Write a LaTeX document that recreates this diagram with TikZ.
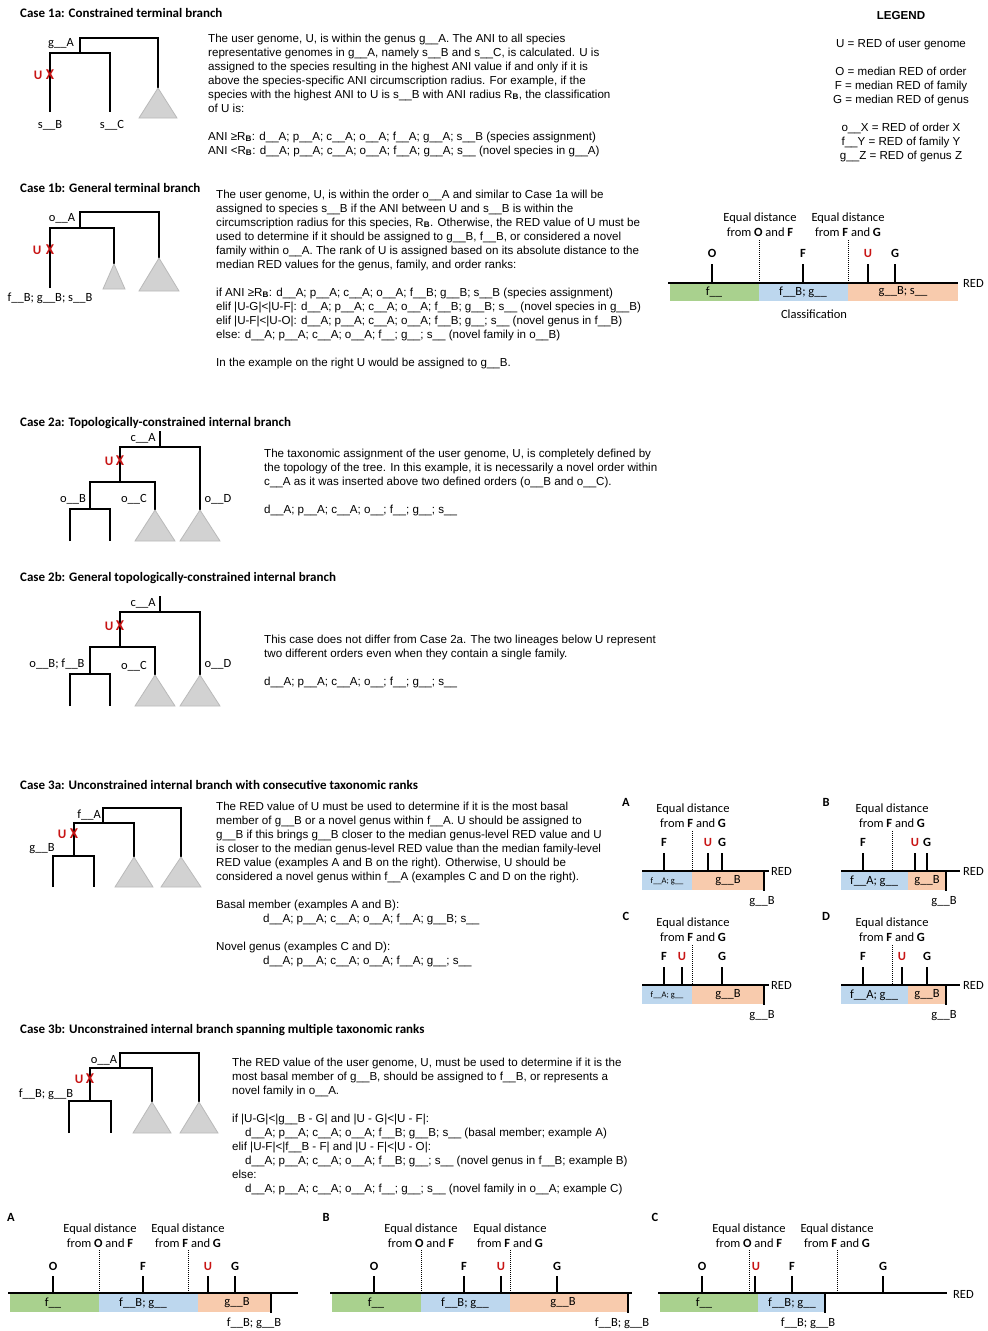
\documentclass[tikz,border=0pt]{standalone}
\usepackage{fontspec}
\setmainfont{Liberation Sans}
\newfontfamily\calib{Carlito}
\def\US{\_\_}
\definecolor{gfill}{RGB}{169,209,142}
\definecolor{bfill}{RGB}{189,215,238}
\definecolor{ofill}{RGB}{248,203,173}
\definecolor{ured}{RGB}{200,20,20}
\definecolor{trifill}{RGB}{210,210,210}
\definecolor{triedge}{RGB}{185,185,185}
\tikzset{
  tl/.style={line width=1.3pt, line join=miter},
  tri/.style={fill=trifill, draw=triedge, line width=0.8pt},
  head/.style={anchor=west, inner sep=0pt, font=\calib\bfseries\fontsize{13}{15}\selectfont},
  body/.style={anchor=north west, inner sep=0pt, align=left, font=\fontsize{11.6}{14}\selectfont},
  tlab/.style={inner sep=0pt, font=\calib\fontsize{12.5}{14}\selectfont},
  ulab/.style={inner sep=0pt, text=ured, font=\calib\bfseries\fontsize{13}{14}\selectfont},
  xmk/.style={inner sep=0pt, text=ured, font=\calib\bfseries\fontsize{15}{15}\selectfont},
  clab/.style={inner sep=0pt, align=center, font=\calib\fontsize{12.5}{15}\selectfont},
  slab/.style={inner sep=0pt, font=\calib\fontsize{8.5}{10}\selectfont},
  blab/.style={inner sep=0pt, font=\calib\bfseries\fontsize{12.5}{14}\selectfont},
  ulabc/.style={inner sep=0pt, text=ured, font=\calib\bfseries\fontsize{12.5}{14}\selectfont},
  axisl/.style={line width=1.3pt},
  tk/.style={line width=1.3pt},
  dl/.style={densely dotted, line width=1pt},
}
% small charts of case 3a
\newcommand{\chAC}[3]{%
\begin{scope}[shift={(0,#3)}]
 \fill[bfill] (642,872) rectangle (692,890);
 \fill[ofill] (692,872) rectangle (764,890);
 \draw[axisl] (642,871) -- (769,871);
 \draw[tk] (764,871) -- (764,891);
 \draw[dl] (692,831) -- (692,871);
 \node[blab] (#1let) at (626,802) {#1};
 \node[clab] (#1eq) at (693,815.5) {Equal distance\\from \textbf{F} and \textbf{G}};
 \draw[tk] (664,853) -- (664,871); \node[blab] (#1F) at (664,842) {F};
 \draw[tk] (#2,853) -- (#2,871); \node[ulabc] (#1U) at (#2,842) {U};
 \draw[tk] (722,853) -- (722,871); \node[blab] (#1G) at (722,842) {G};
 \node[clab,anchor=west] (#1red) at (771,871) {RED};
 \node[slab] (#1b1) at (667,881) {f\US A; g\US};
 \node[clab] (#1b2) at (728,881) {g\US B};
 \node[clab] (#1gb) at (762,902) {g\US B};
\end{scope}}
\newcommand{\chBD}[3]{%
\begin{scope}[shift={(0,#3)}]
 \fill[bfill] (841,872) rectangle (908,890);
 \fill[ofill] (908,872) rectangle (946,890);
 \draw[axisl] (841,871) -- (960,871);
 \draw[tk] (946,871) -- (946,891);
 \draw[dl] (892,831) -- (892,871);
 \node[blab] (#1let) at (826,802) {#1};
 \node[clab] (#1eq) at (892,815.5) {Equal distance\\from \textbf{F} and \textbf{G}};
 \draw[tk] (863,853) -- (863,871); \node[blab] (#1F) at (863,842) {F};
 \draw[tk] (#2,853) -- (#2,871); \node[ulabc] (#1U) at (#2,842) {U};
 \draw[tk] (927,853) -- (927,871); \node[blab] (#1G) at (927,842) {G};
 \node[clab,anchor=west] (#1red) at (963,871) {RED};
 \node[clab] (#1b1) at (874,881) {f\US A; g\US};
 \node[clab] (#1b2) at (927,881) {g\US B};
 \node[clab] (#1gb) at (944,902) {g\US B};
\end{scope}}
\begin{document}
\begin{tikzpicture}[x=1pt,y=-1pt]
\fill[white] (0,0) rectangle (988,1331);
\useasboundingbox (0,0) rectangle (988,1331);

% ================= Case 1a =================
\node[head] (h1a) at (20,13) {Case 1a: Constrained terminal branch};
\draw[tl] (80,53) -- (80,38) -- (158,38) -- (158,88);
\draw[tl] (50,112) -- (50,53) -- (110,53) -- (110,112);
\draw[tri] (158,88) -- (177,118) -- (139,118) -- cycle;
\node[tlab] (ga1) at (61,44) {g\US A};
\node[ulab] (u1) at (38,75) {U};
\node[xmk] (x1) at (50,75) {X};
\node[tlab] (sb1) at (50,125) {s\US B};
\node[tlab] (sc1) at (112,125) {s\US C};
\node[body] (t1a) at (208,33.5) {The user genome, U, is within the genus g\US A. The ANI to all species\\
representative genomes in g\US A, namely s\US B and s\US C, is calculated. U is\\
assigned to the species resulting in the highest ANI value if and only if it is\\
above the species-specific ANI circumscription radius. For example, if the\\
species with the highest ANI to U is s\US B with ANI radius R\textsubscript{\textbf{B}}, the classification\\
of U is:\\[14pt]
ANI ≥R\textsubscript{\textbf{B}}: d\US A; p\US A; c\US A; o\US A; f\US A; g\US A; s\US B (species assignment)\\
ANI <R\textsubscript{\textbf{B}}: d\US A; p\US A; c\US A; o\US A; f\US A; g\US A; s\US{} (novel species in g\US A)};

% ================= Legend =================
\node[body,anchor=north,align=center] (leg) at (901,11.5) {\textbf{LEGEND}\\[14pt]
U = RED of user genome\\[14pt]
O = median RED of order\\
F = median RED of family\\
G = median RED of genus\\[14pt]
o\US X = RED of order X\\
f\US Y = RED of family Y\\
g\US Z = RED of genus Z};

% ================= Case 1b =================
\node[head] (h1b) at (20,188) {Case 1b: General terminal branch};
\draw[tl] (80,228) -- (80,212) -- (159,212) -- (159,258);
\draw[tl] (50,288) -- (50,228) -- (114,228) -- (114,264);
\draw[tri] (159,258) -- (179,291) -- (139,291) -- cycle;
\draw[tri] (114,264) -- (125,289) -- (103,289) -- cycle;
\node[tlab] (oa1b) at (62,218) {o\US A};
\node[ulab] (u1b) at (37,250) {U};
\node[xmk] (x1b) at (50,250) {X};
\node[tlab] (fb1b) at (50,298) {f\US B; g\US B; s\US B};
\node[body] (t1b) at (216,189.5) {The user genome, U, is within the order o\US A and similar to Case 1a will be\\
assigned to species s\US B if the ANI between U and s\US B is within the\\
circumscription radius for this species, R\textsubscript{\textbf{B}}. Otherwise, the RED value of U must be\\
used to determine if it should be assigned to g\US B, f\US B, or considered a novel\\
family within o\US A. The rank of U is assigned based on its absolute distance to the\\
median RED values for the genus, family, and order ranks:\\[14pt]
if ANI ≥R\textsubscript{\textbf{B}}: d\US A; p\US A; c\US A; o\US A; f\US B; g\US B; s\US B (species assignment)\\
elif |U-G|<|U-F|: d\US A;  p\US A; c\US A; o\US A; f\US B; g\US B; s\US{} (novel species in g\US B)\\
elif |U-F|<|U-O|: d\US A; p\US A; c\US A; o\US A; f\US B; g\US; s\US{} (novel genus in f\US B)\\
else: d\US A;  p\US A; c\US A; o\US A; f\US; g\US; s\US{} (novel family in o\US B)\\[14pt]
In the example on the right U would be assigned to g\US B.};

% classification chart (case 1b)
\fill[gfill] (670,284) rectangle (759,301);
\fill[bfill] (759,284) rectangle (848,301);
\fill[ofill] (848,284) rectangle (958,301);
\draw[axisl] (668,283) -- (958,283);
\draw[dl] (759,240) -- (759,283);
\draw[dl] (848,240) -- (848,283);
\node[clab] (ce1) at (760,224.5) {Equal distance\\from \textbf{O} and \textbf{F}};
\node[clab] (ce2) at (848,224.5) {Equal distance\\from \textbf{F} and \textbf{G}};
\draw[tk] (712,264) -- (712,283); \node[blab] (cO) at (712,253) {O};
\draw[tk] (803,264) -- (803,283); \node[blab] (cF) at (803,253) {F};
\draw[tk] (868,264) -- (868,283); \node[ulabc] (cU) at (868,253) {U};
\draw[tk] (895,264) -- (895,283); \node[blab] (cG) at (895,253) {G};
\node[clab,anchor=west] (cred) at (963,283) {RED};
\node[clab] (cb1) at (714,292) {f\US};
\node[clab] (cb2) at (803,292) {f\US B; g\US};
\node[clab] (cb3) at (903,292) {g\US B; s\US};
\node[clab] (ccls) at (814,314) {Classification};

% ================= Case 2a =================
\node[head] (h2a) at (20,423) {Case 2a: Topologically-constrained internal branch};
\draw[tl] (160,431) -- (160,447);
\draw[tl] (120,482) -- (120,447) -- (200,447) -- (200,510);
\draw[tl] (90,509) -- (90,482) -- (155,482) -- (155,510);
\draw[tl] (70,541) -- (70,509) -- (110,509) -- (110,541);
\draw[tri] (155,510) -- (175,541) -- (135,541) -- cycle;
\draw[tri] (200,510) -- (220,541) -- (180,541) -- cycle;
\node[tlab] (ca2a) at (143,438) {c\US A};
\node[ulab] (u2a) at (109,461) {U};
\node[xmk] (x2a) at (120,461) {X};
\node[tlab] (ob2a) at (73,499) {o\US B};
\node[tlab] (oc2a) at (134,499) {o\US C};
\node[tlab] (od2a) at (218,499) {o\US D};
\node[body] (t2a) at (264,448.5) {The taxonomic assignment of the user genome, U, is completely defined by\\
the topology of the tree. In this example, it is necessarily a novel order within\\
c\US A as it was inserted above two defined orders (o\US B and o\US C).\\[14pt]
d\US A; p\US A; c\US A; o\US; f\US; g\US; s\US};

% ================= Case 2b =================
\node[head] (h2b) at (20,578) {Case 2b: General topologically-constrained internal branch};
\draw[tl] (160,596) -- (160,612);
\draw[tl] (120,647) -- (120,612) -- (200,612) -- (200,675);
\draw[tl] (90,674) -- (90,647) -- (155,647) -- (155,675);
\draw[tl] (70,706) -- (70,674) -- (110,674) -- (110,706);
\draw[tri] (155,675) -- (175,706) -- (135,706) -- cycle;
\draw[tri] (200,675) -- (220,706) -- (180,706) -- cycle;
\node[tlab] (ca2b) at (143,603) {c\US A};
\node[ulab] (u2b) at (109,626) {U};
\node[xmk] (x2b) at (120,626) {X};
\node[tlab] (ob2b) at (57,664) {o\US B; f\US B};
\node[tlab] (oc2b) at (134,666) {o\US C};
\node[tlab] (od2b) at (218,664) {o\US D};
\node[body] (t2b) at (264,634.5) {This case does not differ from Case 2a. The two lineages below U represent\\
two different orders even when they contain a single family.\\[14pt]
d\US A; p\US A; c\US A; o\US; f\US; g\US; s\US};

% ================= Case 3a =================
\node[head] (h3a) at (20,785) {Case 3a: Unconstrained internal branch with consecutive taxonomic ranks};
\draw[tl] (103,823) -- (103,808) -- (181,808) -- (181,857);
\draw[tl] (74,856) -- (74,823) -- (134,823) -- (134,857);
\draw[tl] (53,887) -- (53,856) -- (94,856) -- (94,887);
\draw[tri] (134,857) -- (153,887) -- (115,887) -- cycle;
\draw[tri] (181,857) -- (201,887) -- (161,887) -- cycle;
\node[tlab] (fa3a) at (89,815) {f\US A};
\node[ulab] (u3a) at (62,834) {U};
\node[xmk] (x3a) at (74,834) {X};
\node[tlab] (gb3a) at (42,849) {g\US B};
\node[body] (t3a) at (216,801.5) {The RED value of U must be used to determine if it is the most basal\\
member of g\US B or a novel genus within f\US A. U should be assigned to\\
g\US B if this brings g\US B closer to the median genus-level RED value and U\\
is closer to the median genus-level RED value than the median family-level\\
RED value (examples A and B on the right). Otherwise, U should be\\
considered a novel genus within f\US A (examples C and D on the right).\\[14pt]
Basal member (examples A and B):\\
\hspace*{47pt}d\US A; p\US A; c\US A; o\US A; f\US A; g\US B; s\US\\[14pt]
Novel genus (examples C and D):\\
\hspace*{47pt}d\US A; p\US A; c\US A; o\US A; f\US A; g\US; s\US};

\chAC{A}{708}{0}
\chBD{B}{915}{0}
\chAC{C}{682}{114}
\chBD{D}{902}{114}

% ================= Case 3b =================
\node[head] (h3b) at (20,1030) {Case 3b: Unconstrained internal branch spanning multiple taxonomic ranks};
\draw[tl] (120,1068) -- (120,1053) -- (199,1053) -- (199,1102);
\draw[tl] (90,1101) -- (90,1068) -- (152,1068) -- (152,1102);
\draw[tl] (69,1133) -- (69,1101) -- (111,1101) -- (111,1133);
\draw[tri] (152,1102) -- (171,1133) -- (133,1133) -- cycle;
\draw[tri] (199,1102) -- (218,1133) -- (180,1133) -- cycle;
\node[tlab] (oa3b) at (104,1060) {o\US A};
\node[ulab] (u3b) at (79,1079) {U};
\node[xmk] (x3b) at (90,1079) {X};
\node[tlab] (fg3b) at (46,1094) {f\US B; g\US B};
\node[body] (t3b) at (232,1057.5) {The RED value of the user genome, U, must be used to determine if it is the\\
most basal member of g\US B, should be assigned to f\US B, or represents a\\
novel family in o\US A.\\[14pt]
if |U-G|<|g\US B - G| and |U - G|<|U - F|:\\
\hspace*{13pt}d\US A; p\US A; c\US A; o\US A; f\US B; g\US B; s\US{} (basal member; example A)\\
elif |U-F|<|f\US B - F| and |U - F|<|U - O|:\\
\hspace*{13pt}d\US A; p\US A; c\US A; o\US A; f\US B; g\US; s\US{} (novel genus in f\US B; example B)\\
else:\\
\hspace*{13pt}d\US A; p\US A; c\US A; o\US A; f\US; g\US; s\US{} (novel family in o\US A; example C)};

% ---- bottom chart A ----
\fill[gfill] (10,1294) rectangle (99,1312);
\fill[bfill] (99,1294) rectangle (198,1312);
\fill[ofill] (198,1294) rectangle (271,1312);
\draw[axisl] (8,1293) -- (298,1293);
\draw[tk] (271,1293) -- (271,1313);
\draw[dl] (99,1250) -- (99,1293);
\draw[dl] (188,1250) -- (188,1293);
\node[blab] (bAl) at (11,1217) {A};
\node[clab] (bAe1) at (100,1235.5) {Equal distance\\from \textbf{O} and \textbf{F}};
\node[clab] (bAe2) at (188,1235.5) {Equal distance\\from \textbf{F} and \textbf{G}};
\draw[tk] (53,1276) -- (53,1293); \node[blab] (bAO) at (53,1266) {O};
\draw[tk] (143,1276) -- (143,1293); \node[blab] (bAF) at (143,1266) {F};
\draw[tk] (208,1276) -- (208,1293); \node[ulabc] (bAU) at (208,1266) {U};
\draw[tk] (235,1276) -- (235,1293); \node[blab] (bAG) at (235,1266) {G};
\node[clab] (bAb1) at (53,1303) {f\US};
\node[clab] (bAb2) at (143,1303) {f\US B; g\US};
\node[clab] (bAb3) at (237,1303) {g\US B};
\node[clab] (bAb4) at (254,1323) {f\US B; g\US B};

% ---- bottom chart B ----
\fill[gfill] (332,1294) rectangle (421,1312);
\fill[bfill] (421,1294) rectangle (510,1312);
\fill[ofill] (510,1294) rectangle (628,1312);
\draw[axisl] (330,1293) -- (632,1293);
\draw[tk] (628,1293) -- (628,1313);
\draw[dl] (421,1250) -- (421,1293);
\draw[dl] (510,1250) -- (510,1293);
\node[blab] (bBl) at (326,1217) {B};
\node[clab] (bBe1) at (421,1235.5) {Equal distance\\from \textbf{O} and \textbf{F}};
\node[clab] (bBe2) at (510,1235.5) {Equal distance\\from \textbf{F} and \textbf{G}};
\draw[tk] (374,1276) -- (374,1293); \node[blab] (bBO) at (374,1266) {O};
\draw[tk] (464,1276) -- (464,1293); \node[blab] (bBF) at (464,1266) {F};
\draw[tk] (501,1276) -- (501,1293); \node[ulabc] (bBU) at (501,1266) {U};
\draw[tk] (557,1276) -- (557,1293); \node[blab] (bBG) at (557,1266) {G};
\node[clab] (bBb1) at (376,1303) {f\US};
\node[clab] (bBb2) at (465,1303) {f\US B; g\US};
\node[clab] (bBb3) at (563,1303) {g\US B};
\node[clab] (bBb4) at (622,1323) {f\US B; g\US B};

% ---- bottom chart C ----
\fill[gfill] (660,1294) rectangle (758,1312);
\fill[bfill] (758,1294) rectangle (825,1312);
\draw[axisl] (658,1293) -- (947,1293);
\draw[tk] (825,1293) -- (825,1313);
\draw[dl] (749,1250) -- (749,1293);
\draw[dl] (837,1250) -- (837,1293);
\node[blab] (bCl) at (655,1217) {C};
\node[clab] (bCe1) at (749,1235.5) {Equal distance\\from \textbf{O} and \textbf{F}};
\node[clab] (bCe2) at (837,1235.5) {Equal distance\\from \textbf{F} and \textbf{G}};
\draw[tk] (702,1276) -- (702,1293); \node[blab] (bCO) at (702,1266) {O};
\draw[tk] (755,1276) -- (755,1293); \node[ulabc] (bCU) at (756,1266) {U};
\draw[tk] (792,1276) -- (792,1293); \node[blab] (bCF) at (792,1266) {F};
\draw[tk] (883,1276) -- (883,1293); \node[blab] (bCG) at (883,1266) {G};
\node[clab,anchor=west] (bCred) at (953,1294) {RED};
\node[clab] (bCb1) at (704,1303) {f\US};
\node[clab] (bCb2) at (792,1303) {f\US B; g\US};
\node[clab] (bCb4) at (808,1323) {f\US B; g\US B};
\end{tikzpicture}
\end{document}
